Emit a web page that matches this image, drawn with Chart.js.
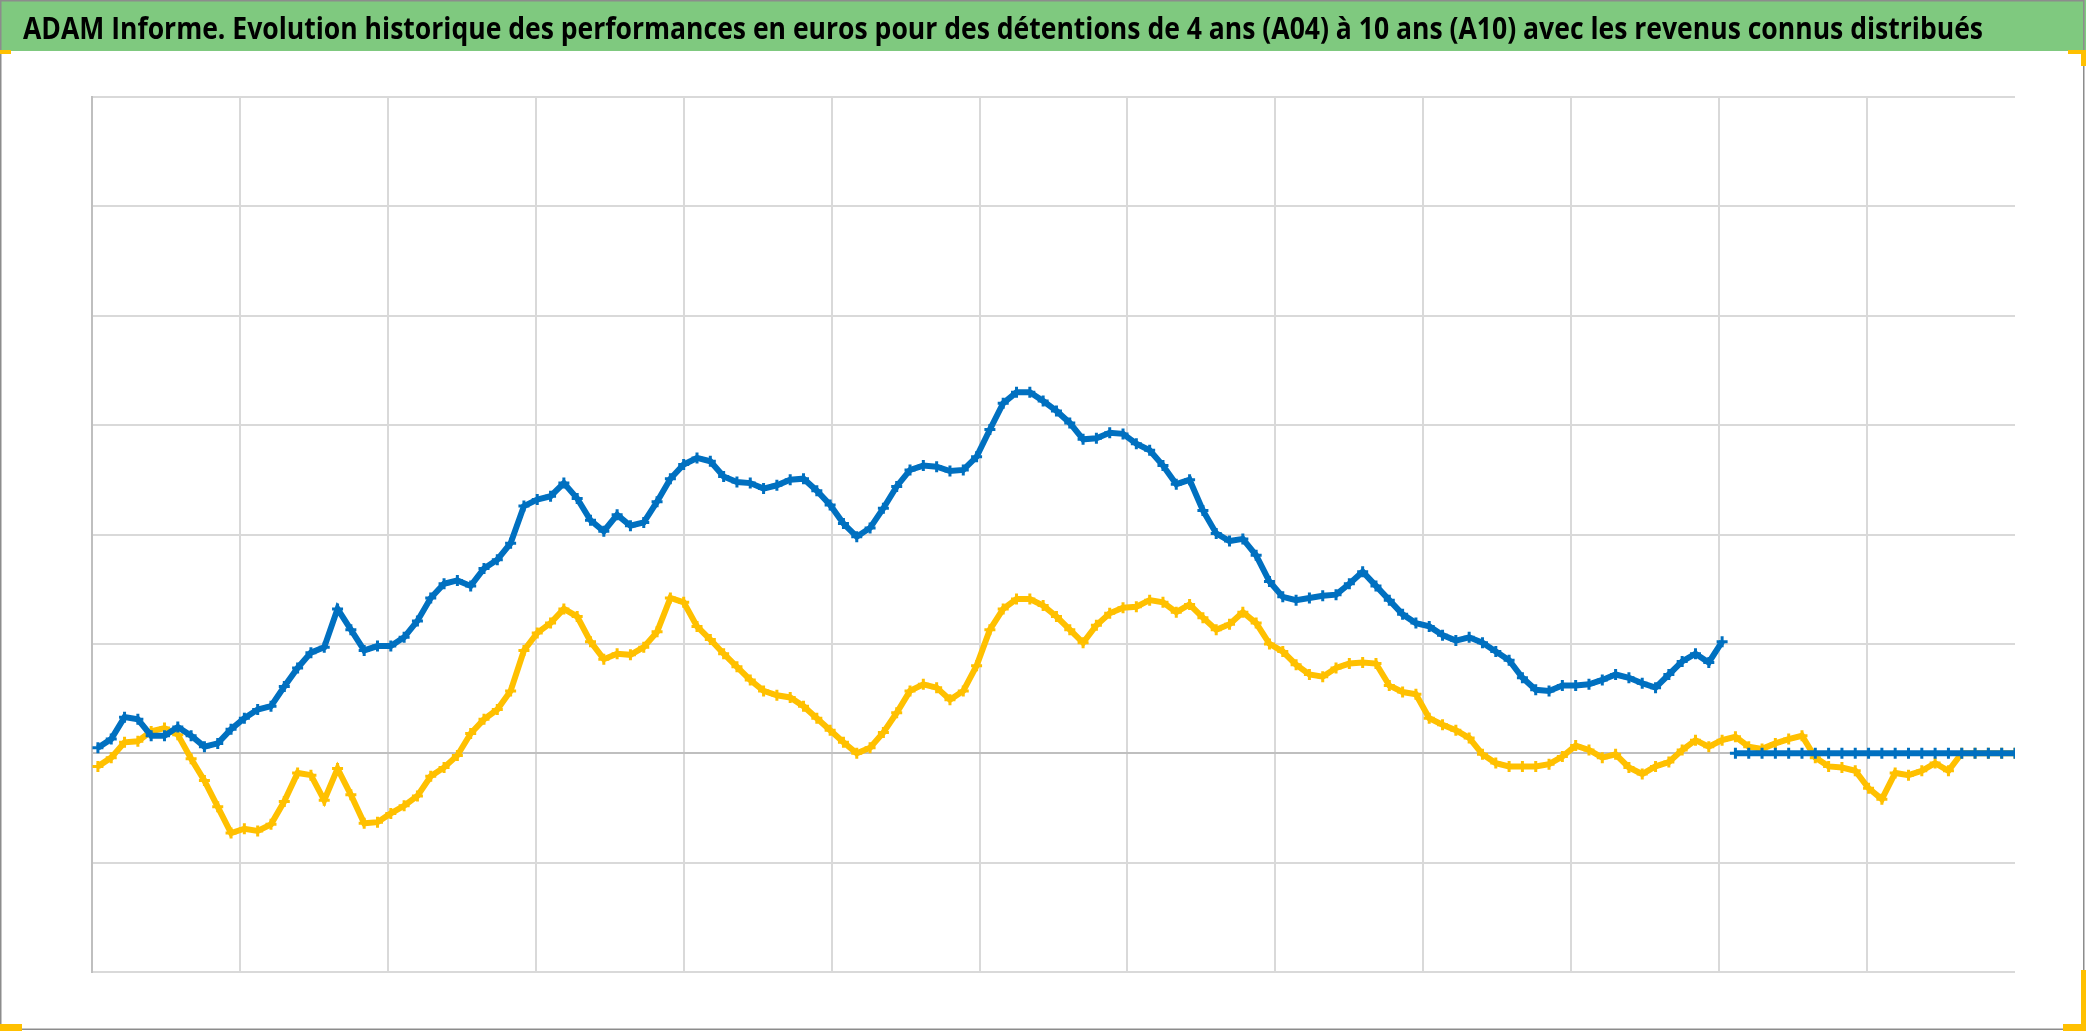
<!DOCTYPE html>
<html>
<head>
<meta charset="utf-8">
<script src="https://cdn.jsdelivr.net/npm/chart.js@4"></script>
<style>
  html, body { margin: 0; padding: 0; background: #fff; }
  canvas { display: block; }
</style>
</head>
<body>
<canvas id="chart" width="2086" height="1031"></canvas>
<script>
// Titre du graphique
const titre = 'ADAM Informe. Evolution historique des performances en euros pour des détentions de 4 ans (A04) à 10 ans (A10) avec les revenus connus distribués';

// Valeurs (une valeur toutes les ~2 semaines), A04 en bleu, A10 en jaune
const serieA04 = [
  5, 13, 33, 31, 16, 16, 24, 16, 6, 9,
  22, 32, 40, 43, 61, 78, 92, 97, 132, 113,
  94, 98, 98, 106, 121, 142, 155, 158, 153, 169,
  177, 192, 226, 232, 235, 247, 233, 213, 203, 218,
  208, 211, 230, 251, 264, 270, 267, 253, 248, 247,
  242, 245, 250, 251, 240, 227, 210, 198, 206, 224,
  244, 259, 263, 262, 258, 259, 271, 296, 320, 330,
  330, 322, 313, 302, 287, 288, 293, 292, 283, 277,
  263, 246, 250, 222, 201, 194, 196, 181, 157, 143,
  140, 142, 144, 145, 155, 166, 153, 140, 127, 119,
  116, 108, 103, 106, 101, 93, 85, 69, 58, 57,
  62, 62, 63, 67, 72, 69, 64, 60, 72, 84,
  91, 83, 102, 0, 0, 0, 0, 0, 0, 0,
  0, 0, 0, 0, 0, 0, 0, 0, 0, 0,
  0, 0, 0, 0, 0
];

const serieA10 = [
  -12, -4, 10, 11, 20, 23, 17, -5, -25, -49,
  -73, -69, -71, -65, -44, -18, -20, -43, -14, -38,
  -64, -63, -55, -48, -39, -21, -13, -2, 18, 31,
  40, 57, 94, 110, 119, 132, 125, 102, 86, 91,
  90, 97, 111, 142, 138, 116, 104, 91, 79, 67,
  57, 53, 51, 43, 32, 21, 10, 0, 5, 19,
  37, 57, 63, 60, 49, 57, 80, 113, 132, 141,
  141, 135, 125, 113, 101, 117, 128, 133, 134, 140,
  138, 129, 136, 124, 113, 118, 129, 119, 100, 93,
  81, 72, 70, 78, 82, 83, 82, 62, 56, 54,
  32, 26, 21, 14, -1, -9, -12, -12, -12, -10,
  -3, 7, 3, -4, -1, -13, -19, -12, -8, 3,
  12, 6, 12, 15, 6, 4, 9, 13, 16, -4,
  -12, -13, -16, -32, -42, -18, -20, -16, -9, -16,
  0, 0, 0, 0, 0
];

// Echelles (pas de libellés visibles sur l'original)
const yMin = -200;
const yMax = 600;
const yPas = 100;
const xMax = 130;
const xPas = 10;

// Position des points sur l'axe horizontal
function versPoints(valeurs) {
  return valeurs.map((v, i) => ({ x: 0.4 + i * 0.9, y: v }));
}

// Bandeau titre + cadre et poignées de sélection
const decor = {
  id: 'decor',
  beforeDraw(chart) {
    const c = chart.ctx;
    c.save();
    c.fillStyle = '#ffffff';
    c.fillRect(0, 0, chart.width, chart.height);
    c.fillStyle = '#7fc97f';
    c.fillRect(0, 0, chart.width, 51);
    c.font = 'bold 30px "Open Sans", "DejaVu Sans Condensed", sans-serif';
    const largeur = c.measureText(titre).width;
    c.translate(1003, 39);
    c.scale(1960 / largeur, 1);
    c.fillStyle = '#000000';
    c.textAlign = 'center';
    c.textBaseline = 'alphabetic';
    c.fillText(titre, 0, 0);
    c.restore();
  },
  afterDraw(chart) {
    const c = chart.ctx;
    c.save();
    c.strokeStyle = '#8c8c8c';
    c.lineWidth = 1.5;
    c.strokeRect(0.75, 0.75, 2083, 1028.5);
    c.fillStyle = '#ffc000';
    c.fillRect(0, 50, 11, 4);
    c.fillRect(2068, 50, 18, 4);
    c.fillRect(2081, 50, 5, 16);
    c.fillRect(0, 1024, 22, 7);
    c.fillRect(2081, 970, 5, 61);
    c.fillRect(2063, 1024, 23, 7);
    c.restore();
  }
};

const ctx = document.getElementById('chart').getContext('2d');

const config = {
  type: 'line',
  data: {
    datasets: [
      {
        label: 'A04',
        data: versPoints(serieA04),
        borderColor: '#0070c0',
        backgroundColor: '#0070c0',
        borderWidth: 6,
        pointStyle: 'cross',
        pointRadius: 5.5,
        pointBorderWidth: 3,
        tension: 0,
        // pas de trait entre la dernière valeur et la série à zéro
        segment: {
          borderColor: s => Math.abs(s.p1.parsed.y - s.p0.parsed.y) > 60 ? 'rgba(0,0,0,0)' : undefined
        }
      },
      {
        label: 'A10',
        data: versPoints(serieA10),
        borderColor: '#ffc000',
        backgroundColor: '#ffc000',
        borderWidth: 6,
        pointStyle: 'cross',
        pointRadius: 5.5,
        pointBorderWidth: 3,
        tension: 0
      }
    ]
  },
  options: {
    responsive: false,
    animation: false,
    layout: {
      padding: { left: 92, top: 97, right: 71, bottom: 59 }
    },
    plugins: {
      legend: { display: false },
      tooltip: { enabled: false },
      title: { display: false }
    },
    scales: {
      x: {
        type: 'linear',
        min: 0,
        max: xMax,
        ticks: { display: false, stepSize: xPas },
        grid: {
          drawTicks: false,
          lineWidth: 2,
          color: g => g.tick.value >= xMax ? 'rgba(0,0,0,0)' : '#d9d9d9'
        },
        border: { display: false }
      },
      y: {
        min: yMin,
        max: yMax,
        ticks: { display: false, stepSize: yPas },
        grid: {
          drawTicks: false,
          lineWidth: 2,
          color: g => g.tick.value === 0 ? '#bfbfbf' : '#d9d9d9'
        },
        border: { display: true, color: '#bfbfbf', width: 2 }
      }
    }
  },
  plugins: [decor]
};

new Chart(ctx, config);
</script>
</body>
</html>
